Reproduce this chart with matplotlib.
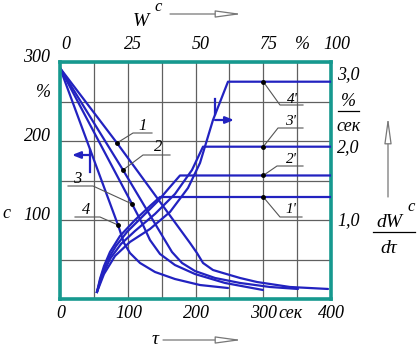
import matplotlib
matplotlib.use('Agg')
import matplotlib.pyplot as plt

plt.rcParams['font.family'] = ['Liberation Serif', 'DejaVu Serif']
plt.rcParams['font.style'] = 'italic'

# --- adatok: nedvességtartalom az idő függvényében (tau, sek ; c, %) ---
tau_1 = [0, 84.1, 191.9, 202.2, 211.1, 225.8, 240.6, 265.7, 290.8, 339.5, 395.6]
c_1 = [292.4, 197.5, 70.9, 58.2, 45.6, 36.7, 32.9, 26.6, 21.5, 15.2, 12.7]
tau_2 = [0, 93.0, 152.0, 165.3, 180.1, 199.3, 228.8, 265.7, 310.0, 351.3]
c_2 = [292.4, 163.3, 78.5, 59.5, 45.6, 35.4, 26.6, 20.3, 15.2, 12.7]
tau_3 = [0, 106.3, 122.5, 132.8, 147.6, 169.7, 199.3, 243.5, 299.6]
c_3 = [292.4, 120.3, 93.7, 74.7, 57.0, 43.0, 31.6, 20.3, 11.4]
tau_4 = [0, 85.6, 94.5, 103.3, 118.1, 140.2, 169.7, 206.6, 248.0]
c_4 = [292.4, 93.7, 70.9, 58.2, 45.6, 34.2, 25.3, 17.7, 13.9]

# --- szárítási sebesség a nedvesség függvényében (W, % ; dW/dtau, %/sek) ---
w_1 = [13.65, 14.76, 16.24, 18.45, 22.14, 27.68, 33.21, 36.9]
r_1 = [0.014, 0.193, 0.371, 0.564, 0.784, 1.004, 1.197, 1.32]
w_2 = [13.65, 15.13, 17.34, 20.66, 24.72, 30.26, 36.16, 40.59, 44.28]
r_2 = [0.014, 0.22, 0.44, 0.646, 0.839, 1.045, 1.265, 1.458, 1.616]
w_3 = [13.65, 15.5, 18.45, 22.51, 27.68, 35.06, 42.44, 48.71, 52.77]
r_3 = [0.014, 0.234, 0.468, 0.674, 0.853, 1.087, 1.362, 1.692, 2.012]
w_4 = [13.65, 16.24, 20.3, 25.83, 33.21, 40.59, 47.23, 51.66, 56.46, 61.99]
r_4 = [0.014, 0.261, 0.509, 0.702, 0.88, 1.114, 1.444, 1.788, 2.38, 2.906]

tau_ticks = [0, 100, 200, 300, 400]
w_ticks = [0, 25, 50, 75, 100]
c_ticks = [100, 200, 300]
r_ticks = [1.0, 2.0, 3.0]
r_labels = ['1,0', '2,0', '3,0']

W, H = 417, 347
BLUE = '#2222c0'
TEAL = '#16998f'
GRID = '#606060'
LEAD = '#555555'
FS = 13

fig = plt.figure(figsize=(W / 100, H / 100), dpi=100)
fig.patch.set_facecolor('white')
rect = [60 / W, 1 - 299 / H, 271 / W, 237 / H]

ax = fig.add_axes(rect)
ax.set_xlim(0, 400)
ax.set_ylim(0, 300)
ax.set_xticks(range(0, 401, 50))
ax.set_yticks(range(0, 301, 50))
ax.grid(True, color=GRID, lw=0.9)
ax.tick_params(length=0, labelbottom=False, labelleft=False)
for s in ax.spines.values():
    s.set_color(TEAL)
    s.set_linewidth(2.6)
    s.set_zorder(10)

ax2 = fig.add_axes(rect, frameon=False)
ax2.set_xlim(0, 100)
ax2.set_ylim(-0.083, 3.177)
ax2.axis('off')

ov = fig.add_axes([0, 0, 1, 1], frameon=False)
ov.set_xlim(0, W)
ov.set_ylim(H, 0)
ov.axis('off')

decr = [(tau_1, c_1), (tau_2, c_2), (tau_3, c_3), (tau_4, c_4)]
for t, c in decr:
    ax.plot(t, c, color=BLUE, lw=1.6, solid_capstyle='round')

rise = [(w_1, r_1), (w_2, r_2), (w_3, r_3), (w_4, r_4)]
for w, r in rise:
    ax2.plot(w + [100], r + [r[-1]], color=BLUE, lw=1.6, solid_joinstyle='round')


def to_px(a, x, y):
    dx, dy = a.transData.transform((x, y))
    return dx, H - dy


# tengelyfeliratok
for t in tau_ticks:
    ax.text(t + 1, -0.06, str(t), transform=ax.get_xaxis_transform(),
            ha='center', va='center', fontsize=FS)
ax.text(340, -0.06, 'сек', transform=ax.get_xaxis_transform(),
        ha='center', va='center', fontsize=FS)
for w in w_ticks:
    ax2.text(w + 2, 1.072, str(w), transform=ax2.get_xaxis_transform(),
             ha='center', va='center', fontsize=FS)
ax2.text(89.5, 1.072, '%', transform=ax2.get_xaxis_transform(),
         ha='center', va='center', fontsize=FS)
for c in c_ticks:
    ax.text(-0.035, c + 6, str(c), transform=ax.get_yaxis_transform(),
            ha='right', va='center', fontsize=FS)
for r, lab in zip(r_ticks, r_labels):
    ax2.text(1.022, r, lab, transform=ax2.get_yaxis_transform(),
             ha='left', va='center', fontsize=FS)

ov.text(43, 92, '%', ha='center', va='center', fontsize=FS)
ov.text(2, 213, 'c', ha='left', va='center', fontsize=FS)
ov.text(348, 101, '%', ha='center', va='center', fontsize=FS)
ov.plot([338, 359], [111, 111], color='black', lw=0.9)
ov.text(349, 126, 'сек', ha='center', va='center', fontsize=FS)

ov.text(141, 21, 'W', ha='center', va='center', fontsize=FS + 1)
ov.text(158, 7, 'c', ha='center', va='center', fontsize=FS - 1)
ov.text(155, 339, 'τ', ha='center', va='center', fontsize=FS + 1)
ov.text(389, 222, 'dW', ha='center', va='center', fontsize=FS + 1)
ov.text(411, 207, 'c', ha='center', va='center', fontsize=FS - 1)
ov.plot([373, 415], [232, 232], color='black', lw=0.9)
ov.text(389, 248, 'dτ', ha='center', va='center', fontsize=FS + 1)

arrow = dict(arrowstyle='-|>,head_length=1.6,head_width=0.22', color='#777777',
             fc='white', lw=0.9, shrinkA=0, shrinkB=0)
ov.annotate('', xy=(242, 14), xytext=(170, 14), arrowprops=arrow)
ov.annotate('', xy=(242, 340), xytext=(163, 340), arrowprops=arrow)
ov.annotate('', xy=(388, 117), xytext=(388, 197), arrowprops=arrow)

# jelölő nyilak a görbéken
bl = dict(arrowstyle='-|>,head_length=0.5,head_width=0.2', color=BLUE, lw=1.6,
          shrinkA=0, shrinkB=0)
ov.plot([90, 90], [150, 172], color=BLUE, lw=1.6)
ov.annotate('', xy=(72, 155), xytext=(90, 155), arrowprops=bl)
ov.plot([215, 215], [99, 114], color=BLUE, lw=1.6)
ov.annotate('', xy=(234, 120), xytext=(215, 120), arrowprops=bl)

# görbecímkék
marks = [(tau_1[1], c_1[1], (133, 133), (152, 133), '1', (143, 126)),
         (tau_2[1], c_2[1], (143, 155), (170, 155), '2', (158, 147)),
         (tau_3[1], c_3[1], (93, 186), (68, 186), '3', (77, 179)),
         (tau_4[1], c_4[1], (100, 217), (75, 217), '4', (86, 210))]
for x, y, knee, end, lab, tp in marks:
    px, py = to_px(ax, x, y)
    ov.plot([px, knee[0], end[0]], [py, knee[1], end[1]], color=LEAD, lw=0.8)
    ov.plot(px, py, 'o', color='black', ms=2.5)
    ov.text(tp[0], tp[1], lab, ha='center', va='center', fontsize=FS - 1)

rmarks = [(r_1[-1], (280, 217), (302, 217), "1'", (291, 209)),
          (r_2[-1], (277, 166), (303, 166), "2'", (291, 159)),
          (r_3[-1], (278, 128), (303, 128), "3'", (290, 121)),
          (r_4[-1], (280, 105), (303, 105), "4'", (292, 99))]
for r, knee, end, lab, tp in rmarks:
    px, py = to_px(ax2, 75, r)
    ov.plot([px, knee[0], end[0]], [py, knee[1], end[1]], color=LEAD, lw=0.8)
    ov.plot(px, py, 'o', color='black', ms=2.5)
    ov.text(tp[0], tp[1], lab, ha='center', va='center', fontsize=FS - 2)

fig.savefig('out.png', dpi=100)
